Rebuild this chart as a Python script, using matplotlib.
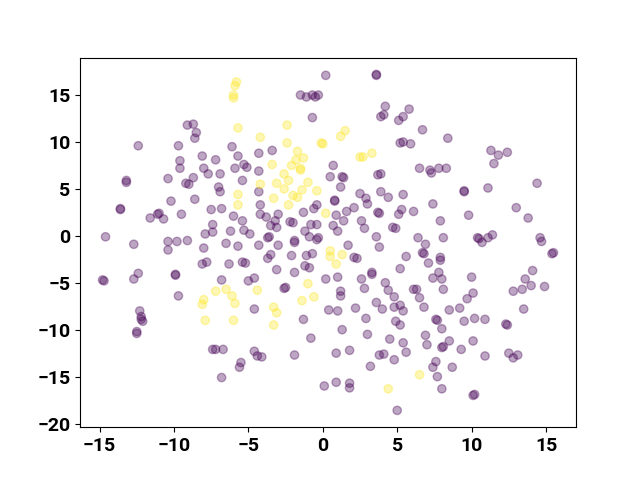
import numpy as np
import matplotlib
matplotlib.use("Agg")
import matplotlib.pyplot as plt

plt.rcParams['font.family'] = ['Roboto', 'DejaVu Sans']
plt.rcParams['font.weight'] = 'bold'

# class 1 (yellow)
x1 = [-5.8, -5.9, -6.0, -6.0, -5.7, -5.7, -5.7, -7.2, -6.5, -6.1, -8.0, -8.1, -5.9, -7.9, -6.0,
      -2.4, 1.5, 1.2, -4.2, -2.4, -0.1, 0.0, -1.7, -1.3, -1.8, -2.1, -1.5, -1.5, -3.4, -2.6,
      2.5, 2.7, 3.3, -2.3, -3.1, -4.2, -1.0, -2.6, -3.3, -2.0, -1.7, -1.4, -0.4, -2.3, 0.2,
      0.5, 0.5, 1.3, 0.9, -4.4, -1.0, -1.4, -0.6, -3.3, -3.1, -3.3, 4.4, 6.5]
y1 = [16.4, 16.0, 15.0, 14.7, 11.5, 4.4, 3.3, -5.9, -5.7, -6.4, -6.8, -7.3, -7.2, -9.0, -9.0,
      11.8, 11.2, 10.6, 10.5, 9.9, 9.9, 9.8, 9.0, 8.3, 8.1, 7.5, 7.2, 7.0, 7.6, 6.6,
      8.4, 8.4, 8.8, 5.9, 5.6, 5.5, 5.7, 5.0, 4.0, 4.3, 4.1, 4.9, 4.8, 3.3, 2.4,
      -1.6, -2.2, -2.0, -3.0, -5.8, -5.1, -6.9, -6.5, -7.6, -8.2, -9.5, -16.3, -14.8]

# class 0 (purple)
x0 = [-9.1, -8.7, -8.5, -8.6, -12.4, -9.7, -6.1, -5.7, -8.1, -7.2, -9.6, -9.6, -8.0, -5.9, -5.3,
      -5.1, -7.7, -6.9, -10.4, -8.7, -5.4, -13.2, -13.2, -9.2, -9.0, -7.0, -6.9,
      -13.6, -13.6, -10.2, -8.6, -11.0, -11.1, -11.6, -10.7, -9.5, -7.5, -6.8, -6.0, -5.4, -7.4,
      -7.9, -7.4, -6.2, -5.3, -4.9, -14.6, -12.7, -10.4, -9.8, -9.1, -10.4, -8.0, -6.5, -5.7,
      -8.1, -7.8, -6.3, -5.4, -5.2, -12.4, -12.7, -14.8, -14.7, -9.9, -9.9, -6.8, -5.0, -9.7,
      -12.3, -12.2, -12.2, -12.1, -12.5, -12.5, -7.4, -7.2, -6.7, -5.5, -5.6, -6.8,
      0.2, 3.6, 3.6, -1.5, -1.1, -0.7, -0.5, -0.3, -0.7, 4.2, 3.9, 4.1, 5.8, 5.4, 5.1,
      5.2, 5.4, 5.9, -4.3, -3.4, -4.3, 0.7, 0.5, 1.3, 1.4, 3.7, 3.9, 1.2,
      -4.3, -4.2, -0.4, -0.6, 0.8, 0.8, -1.3, -4.2, -3.8, -3.0, -3.2, -3.5, -3.1, -2.2, -2.0,
      -0.8, -0.4, 0.7, 0.9, 1.6, 2.1, 2.5, 2.9, 3.0, 3.9, 4.4, 5.4, 3.8, 3.7, 5.1, 5.3, 6.1,
      2.6, 2.8, 1.0, 1.4, -1.2, -3.7, -3.6, -3.0, -4.3, -1.9, -1.9, -0.3, -0.4, -0.9, 1.7,
      3.6, 3.8, 4.7, 4.9, -2.1, -3.5, -3.7, -1.1, -0.7, 2.1, 2.3, 5.6, -3.1, -1.9, -1.2,
      -0.9, 0.2, 1.0, 3.3, 3.3, 2.6, 4.2, 5.2, -4.6, -2.6, -2.5, 1.2, 1.2, 2.8, 3.6, 4.4,
      4.8, 6.1, -4.6, 0.4, 1.0, 2.2, 4.0, 4.8, 5.2, 5.4,
      -1.3, 2.9, 4.9, 5.2, 1.3, 3.0, -0.8, 4.5, 5.4, 5.6, -4.6, -4.4, -4.1, -1.9, 0.9, 1.8,
      3.8, 4.1, 4.8, 3.2, 0.1, 0.9, 1.8, 1.8, 5.0,
      6.7, 8.4, 11.3, 11.8, 12.4, 11.5, 6.5, 7.2, 7.3, 7.8, 8.3, 14.4, 11.1,
      9.5, 9.5, 7.4, 7.9, 9.8, 13.0, 13.8, 6.4, 6.9, 8.1, 10.4, 10.5, 10.7, 11.1, 11.4,
      14.6, 14.7, 15.4, 15.5, 6.8, 6.7, 7.9, 7.9, 7.1, 7.8, 7.4, 8.0, 10.0, 8.1, 6.3, 6.5,
      10.1, 9.7, 14.1, 13.6, 12.8, 13.4, 14.0, 14.9, 6.8, 8.5, 9.2, 13.5,
      7.6, 7.7, 8.0, 9.5, 10.2, 10.9, 12.4, 12.3, 6.9, 7.0, 8.5, 8.0, 8.1, 9.3, 10.1, 10.9,
      12.5, 12.8, 13.1, 7.6, 7.4, 8.7, 7.7, 8.0, 10.2, 10.1]
y0 = [11.8, 11.9, 11.0, 10.4, 9.6, 9.6, 9.5, 8.5, 8.5, 8.1, 8.0, 7.2, 7.2, 7.2, 7.6,
      7.3, 6.6, 6.6, 6.1, 6.2, 5.9, 5.7, 5.9, 5.6, 5.5, 5.2, 4.7,
      2.9, 2.8, 3.7, 3.9, 2.4, 2.3, 1.9, 1.8, 2.3, 2.8, 2.9, 2.1, 1.6, 1.2,
      0.2, 0.4, 0.5, 0.6, 0.2, -0.1, -0.9, -0.6, -0.6, -0.5, -1.5, -1.3, -0.8, -1.1,
      -3.0, -2.8, -3.0, -2.8, -2.9, -4.0, -4.6, -4.7, -4.8, -4.2, -4.1, -4.7, -4.8, -6.4,
      -8.0, -8.6, -8.9, -9.1, -10.2, -10.4, -12.1, -12.1, -12.1, -13.5, -14.0, -15.1,
      17.1, 17.1, 17.2, 15.0, 14.8, 15.0, 14.8, 15.0, 12.6, 13.8, 12.7, 12.9, 13.5, 12.7, 12.3,
      9.9, 10.0, 9.8, 8.8, 9.1, 6.9, 7.5, 6.3, 6.3, 6.2, 6.5, 6.6, 5.2,
      4.7, 3.3, 3.3, 2.9, 3.7, 3.8, 2.5, 2.3, 2.0, 2.3, 1.6, 1.1, 0.9, 1.5, 1.4,
      1.2, 1.2, 1.1, 2.2, 2.6, 3.0, 4.5, 4.0, 3.4, 4.7, 4.1, 4.4, 2.4, 2.5, 2.3, 2.8, 2.6,
      1.6, 0.8, 0.5, 1.6, 0.5, -0.2, -0.1, -1.0, -1.0, -0.5, -0.7, -0.2, -0.4, -0.1, -1.0,
      -0.1, -1.2, 0.9, 0.8, -2.1, -2.0, -2.4, -2.1, -1.9, -2.3, -2.4, -2.2, -3.6, -3.9, -3.2,
      -3.4, -4.6, -4.4, -3.9, -4.1, -4.6, -5.0, -3.5, -4.5, -5.6, -5.5, -5.9, -6.4, -5.6, -7.1, -5.8,
      -6.5, -5.7, -7.8, -7.9, -8.0, -7.7, -7.8, -7.6, -7.4, -8.0,
      -8.9, -8.8, -9.1, -9.5, -10.0, -10.5, -10.9, -11.0, -11.4, -12.4, -12.3, -12.8, -12.9, -12.7, -12.5, -12.2,
      -12.7, -12.6, -13.2, -13.9, -16.0, -15.6, -15.7, -16.2, -18.6,
      11.3, 10.4, 9.1, 8.6, 8.9, 7.7, 7.2, 7.0, 6.7, 7.2, 7.2, 5.6, 5.1,
      4.7, 4.8, 3.4, 1.6, 2.2, 3.0, 1.9, -0.2, -0.9, -0.2, -0.2, -0.3, -0.7, -0.2, 0.1,
      -0.2, -0.6, -1.9, -1.8, -1.9, -1.8, -2.3, -2.6, -2.9, -3.9, -4.5, -4.6, -4.4, -5.7, -5.7, -6.6,
      -6.1, -6.7, -3.7, -4.6, -5.9, -5.7, -5.3, -5.4, -7.6, -7.9, -7.7, -7.8,
      -8.9, -9.0, -9.9, -9.1, -8.8, -8.9, -9.5, -9.4, -10.6, -11.6, -11.2, -11.9, -11.8, -12.1, -11.2, -12.8,
      -12.5, -13.0, -12.7, -13.4, -14.0, -14.0, -15.0, -16.3, -16.9, -17.0]

x = np.array(x0 + x1)
y = np.array(y0 + y1)
labels = np.array([0] * len(x0) + [1] * len(x1))

fig, ax = plt.subplots(figsize=(6.4, 4.8), dpi=100)
ax.scatter(x, y, c=labels, cmap='viridis', alpha=0.35)
ax.tick_params(labelsize=14)

plt.savefig('out.png')
